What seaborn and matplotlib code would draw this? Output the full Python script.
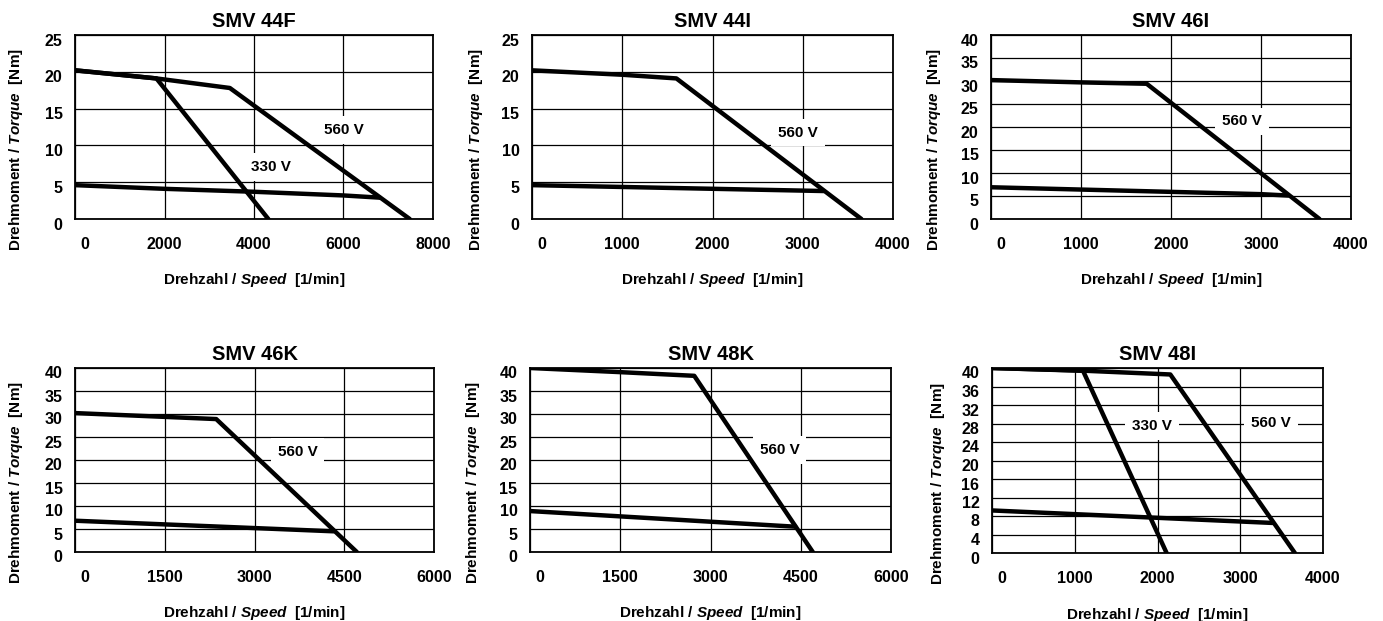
import matplotlib
matplotlib.use("Agg")
import matplotlib.pyplot as plt
import seaborn as sns
import pandas as pd
from matplotlib.transforms import ScaledTranslation

# ---------------- data (speed in 1/min, torque in Nm) ----------------
# SMV 44F
f44_560_speed = [0, 1820, 3460, 7480]
f44_560_torque = [20.2, 19.1, 17.8, 0]
f44_330_speed = [0, 1820, 4320]
f44_330_torque = [20.2, 19.1, 0]
f44_cont_speed = [0, 2000, 4000, 6000, 6810]
f44_cont_torque = [4.6, 4.1, 3.7, 3.2, 2.9]

# SMV 44I
i44_560_speed = [0, 1000, 1600, 3650]
i44_560_torque = [20.2, 19.6, 19.1, 0]
i44_cont_speed = [0, 3230]
i44_cont_torque = [4.6, 3.8]

# SMV 46I
i46_560_speed = [0, 1000, 1730, 3650]
i46_560_torque = [30.2, 29.7, 29.4, 0]
i46_cont_speed = [0, 1000, 2000, 3000, 3300]
i46_cont_torque = [6.9, 6.4, 5.9, 5.4, 5.1]

# SMV 46K
k46_560_speed = [0, 2360, 4710]
k46_560_torque = [30.2, 28.9, 0]
k46_cont_speed = [0, 4320]
k46_cont_torque = [6.8, 4.5]

# SMV 48K
k48_560_speed = [0, 1500, 2730, 4700]
k48_560_torque = [40.0, 39.1, 38.3, 0]
k48_cont_speed = [0, 4410]
k48_cont_torque = [8.9, 5.5]

# SMV 48I
i48_560_speed = [0, 1000, 2155, 3660]
i48_560_torque = [40.0, 39.5, 38.6, 0]
i48_330_speed = [0, 1100, 2110]
i48_330_torque = [40.0, 39.4, 0]
i48_cont_speed = [0, 3390]
i48_cont_torque = [9.2, 6.5]

titles = ["SMV 44F", "SMV 44I", "SMV 46I", "SMV 46K", "SMV 48K", "SMV 48I"]
xticks_list = [[0, 2000, 4000, 6000, 8000],
               [0, 1000, 2000, 3000, 4000],
               [0, 1000, 2000, 3000, 4000],
               [0, 1500, 3000, 4500, 6000],
               [0, 1500, 3000, 4500, 6000],
               [0, 1000, 2000, 3000, 4000]]
yticks_list = [[0, 5, 10, 15, 20, 25],
               [0, 5, 10, 15, 20, 25],
               [0, 5, 10, 15, 20, 25, 30, 35, 40],
               [0, 5, 10, 15, 20, 25, 30, 35, 40],
               [0, 5, 10, 15, 20, 25, 30, 35, 40],
               [0, 4, 8, 12, 16, 20, 24, 28, 32, 36, 40]]

curves_list = [
    [(f44_560_speed, f44_560_torque), (f44_330_speed, f44_330_torque), (f44_cont_speed, f44_cont_torque)],
    [(i44_560_speed, i44_560_torque), (i44_cont_speed, i44_cont_torque)],
    [(i46_560_speed, i46_560_torque), (i46_cont_speed, i46_cont_torque)],
    [(k46_560_speed, k46_560_torque), (k46_cont_speed, k46_cont_torque)],
    [(k48_560_speed, k48_560_torque), (k48_cont_speed, k48_cont_torque)],
    [(i48_560_speed, i48_560_torque), (i48_330_speed, i48_330_torque), (i48_cont_speed, i48_cont_torque)],
]

# voltage labels: (text, speed, torque)
labels_list = [
    [("560 V", 6010, 12.1), ("330 V", 4370, 7.1)],
    [("560 V", 2950, 11.75)],
    [("560 V", 2790, 21.2)],
    [("560 V", 3720, 21.7)],
    [("560 V", 4150, 22.2)],
    [("330 V", 1930, 27.4), ("560 V", 3370, 28.1)],
]

# ---------------- style ----------------
sns.set_theme(style="white")
plt.rcParams["font.family"] = ["Liberation Sans", "DejaVu Sans"]
plt.rcParams["font.weight"] = "bold"
plt.rcParams["text.color"] = "black"
plt.rcParams["axes.labelcolor"] = "black"
plt.rcParams["axes.titlecolor"] = "black"
plt.rcParams["xtick.color"] = "black"
plt.rcParams["ytick.color"] = "black"
plt.rcParams["mathtext.fontset"] = "custom"
plt.rcParams["mathtext.it"] = "Liberation Sans:bold:italic"
plt.rcParams["mathtext.rm"] = "Liberation Sans"
plt.rcParams["mathtext.bf"] = "Liberation Sans:bold"

W, H = 1383, 621
fig = plt.figure(figsize=(W / 100, H / 100), dpi=100)

# axes boxes in pixels: left, right, top, bottom
boxes = [(75, 433, 35, 219), (532, 893, 35, 219), (991, 1351, 35, 219),
         (75, 434, 368, 552), (530, 891, 368, 552), (992, 1323, 368, 553)]
ylab_x = [-0.140, -0.130, -0.133, -0.139, -0.133, -0.136]
xlab_y = [-0.285, -0.285, -0.285, -0.285, -0.285, -0.285]

for i in range(6):
    l, r, t, b = boxes[i]
    ax = fig.add_axes([l / W, (H - b) / H, (r - l) / W, (b - t) / H])
    rows = []
    for k, (sx, ty) in enumerate(curves_list[i]):
        for s, q in zip(sx, ty):
            rows.append({"speed": s, "torque": q, "curve": k})
    df = pd.DataFrame(rows)
    sns.lineplot(data=df, x="speed", y="torque", units="curve", estimator=None,
                 sort=False, color="black", lw=3.2, ax=ax, zorder=4,
                 legend=False)
    xt = xticks_list[i]
    yt = yticks_list[i]
    ax.set_xlim(xt[0], xt[-1])
    ax.set_ylim(yt[0], yt[-1])
    ax.set_xticks(xt)
    ax.set_yticks(yt)
    ax.set_xticklabels([str(v) for v in xt], fontsize=11.5, fontweight="bold", color="black")
    ax.set_yticklabels([str(v) for v in yt], fontsize=11.5, fontweight="bold", color="black")
    ax.tick_params(axis="x", length=0, pad=13)
    ax.tick_params(axis="y", length=0, pad=9)
    ax.grid(True, color="black", lw=0.9)
    ax.set_axisbelow(True)
    for sp in ax.spines.values():
        sp.set_color("black")
        sp.set_linewidth(1.3)
        sp.set_visible(True)
    ax.set_title(titles[i], fontsize=14.5, fontweight="bold", pad=6, color="black")
    ax.set_xlabel(r"Drehzahl $\mathrm{/}$ $\mathit{Speed}$  [1/min]", fontsize=11,
                  fontweight="bold", color="black")
    ax.set_ylabel(r"Drehmoment $\mathrm{/}$ $\mathit{Torque}$  [Nm]", fontsize=11,
                  fontweight="bold", color="black")
    ax.xaxis.set_label_coords(0.5, xlab_y[i])
    ax.yaxis.set_label_coords(ylab_x[i], 0.375)
    for txt, xs, ys in labels_list[i]:
        ax.text(xs, ys, txt, fontsize=11, fontweight="bold", ha="center", va="center",
                color="black", zorder=3,
                bbox=dict(boxstyle="square,pad=0.45", fc="white", ec="none"))
    # offsets of tick labels like the original scan
    labs = ax.get_xticklabels()
    labs[0].set_transform(labs[0].get_transform() + ScaledTranslation(10 / 100, 0, fig.dpi_scale_trans))
    for lab in ax.get_yticklabels():
        lab.set_transform(lab.get_transform() + ScaledTranslation(0, -4.5 / 100, fig.dpi_scale_trans))

fig.savefig("out.png", dpi=100, facecolor="white")
